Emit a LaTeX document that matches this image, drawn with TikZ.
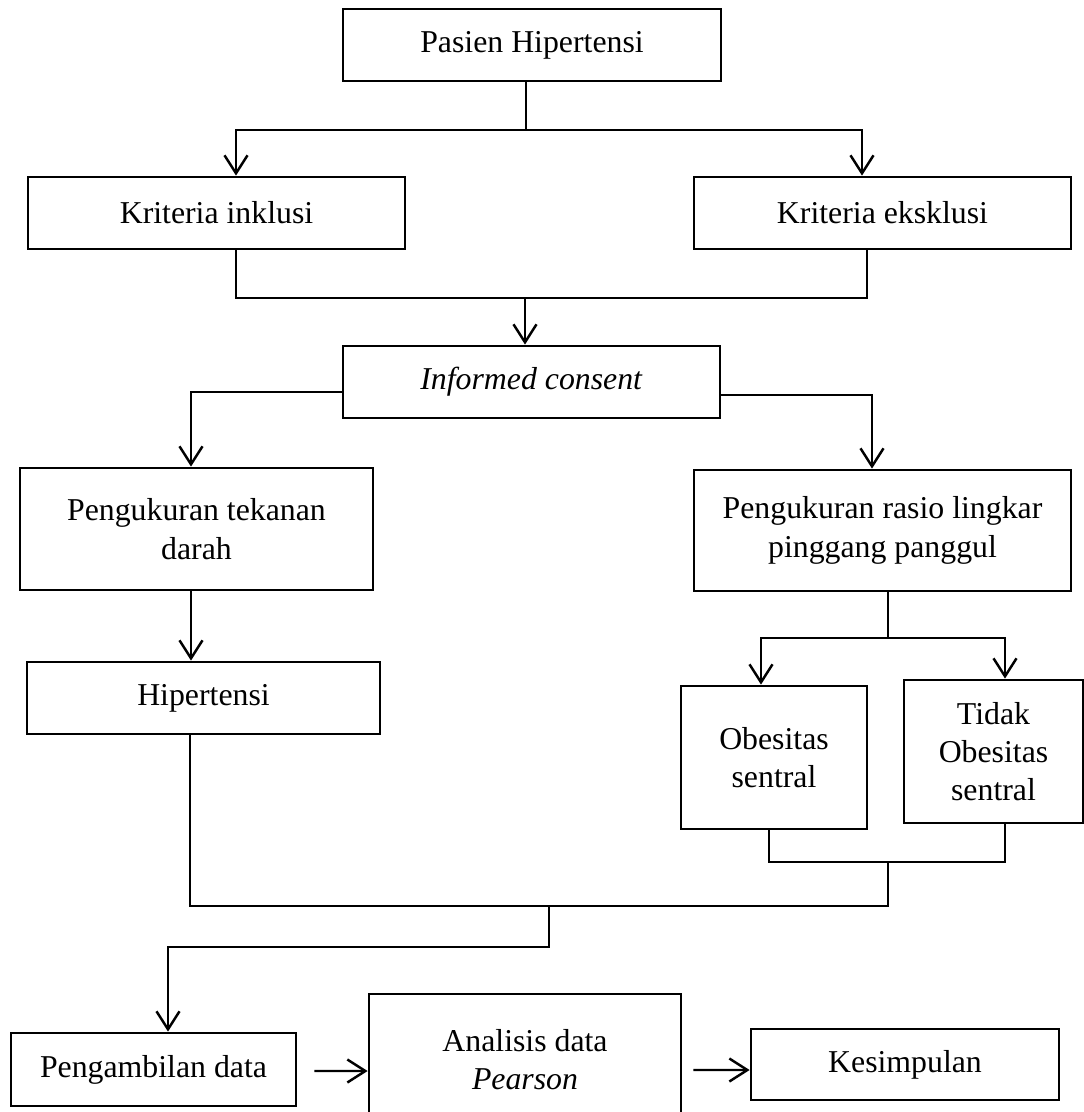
\documentclass[tikz,border=0pt]{standalone}
\usepackage{fontspec}
\setmainfont{Liberation Serif}
\usetikzlibrary{arrows.meta}

\begin{document}
\begin{tikzpicture}[
    x=0.02cm, y=-0.02cm,
    >={Straight Barb[length=0.36cm,width=0.46cm]},
    box/.style={
        draw,
        line width=1.6pt,
        minimum width=7.54cm,
        minimum height=1.44cm,
        inner sep=2pt,
        align=center,
        font=\fontsize{18.1pt}{21.8pt}\selectfont
    },
    line/.style={
        line width=1.4pt
    },
    arr/.style={
        ->,
        line width=1.4pt
    }
]
    \useasboundingbox (0,0) rectangle (1084,1112);

    \node[box, minimum width=7.56cm] (pasien) at (532,45)
        {Pasien Hipertensi};

    \node[box] (inklusi) at (216.5,213)
        {Kriteria inklusi};

    \node[box] (eksklusi) at (882.5,213)
        {Kriteria eksklusi};

    \node[box] (informed) at (531.5,382)
        {\textit{Informed consent}};

    \node[box, minimum width=7.06cm, minimum height=2.44cm] (tekanan) at (196.5,529)
        {Pengukuran tekanan\\darah};

    \node[box, minimum height=2.42cm] (rasio) at (882.5,530.5)
        {Pengukuran rasio lingkar\\pinggang panggul};

    \node[box, minimum width=7.06cm] (hipertensi) at (203.5,698)
        {Hipertensi};

    \node[box, minimum width=3.72cm, minimum height=2.86cm] (obesitas) at (774,757.5)
        {Obesitas\\sentral};

    \node[box, minimum width=3.58cm, minimum height=2.86cm] (tidak) at (993.5,751.5)
        {Tidak\\Obesitas\\sentral};

    \node[box, minimum width=5.7cm, minimum height=1.46cm] (ambil) at (153.5,1069.5)
        {Pengambilan data};

    \node[box, minimum width=6.24cm, minimum height=2.62cm] (analisis) at (525,1059.5)
        {Analisis data\\\textit{Pearson}};

    \node[box, minimum width=6.16cm, minimum height=1.42cm] (kesimpulan) at (905,1064.5)
        {Kesimpulan};

    % Titik cabang
    \coordinate (split1) at (526,130);
    \coordinate (split1l) at (236,130);
    \coordinate (split1r) at (862,130);
    \coordinate (join1) at (525,298);
    \coordinate (join1l) at (236,298);
    \coordinate (join1r) at (867,298);
    \coordinate (split2l) at (191,392);
    \coordinate (split2r) at (872,395);
    \coordinate (split3) at (888,638);
    \coordinate (split3l) at (761,638);
    \coordinate (split3r) at (1005,638);
    \coordinate (join2l) at (769,862);
    \coordinate (join2r) at (1005,862);
    \coordinate (join3l) at (190,906);
    \coordinate (join3r) at (888,906);
    \coordinate (turnl) at (168,947);
    \coordinate (turnr) at (549,947);

    \draw[line]
        (pasien.south -| split1) -- (split1);

    \draw[arr]
        (split1) -- (split1l) -- (inklusi.north -| split1l);

    \draw[arr]
        (split1) -- (split1r) -- (eksklusi.north -| split1r);

    \draw[line]
        (inklusi.south -| join1l) -- (join1l) --
        (join1r) -- (eksklusi.south -| join1r);

    \draw[arr]
        (join1) -- (informed.north -| join1);

    \draw[arr]
        (informed.west |- split2l) -- (split2l) -- (tekanan.north -| split2l);

    \draw[arr]
        (informed.east |- split2r) -- (split2r) -- (rasio.north -| split2r);

    \draw[arr]
        (tekanan.south -| split2l) -- (hipertensi.north -| split2l);

    \draw[line]
        (rasio.south -| split3) -- (split3);

    \draw[arr]
        (split3) -- (split3l) -- (obesitas.north -| split3l);

    \draw[arr]
        (split3) -- (split3r) -- (tidak.north -| split3r);

    \draw[line]
        (obesitas.south -| join2l) -- (join2l) --
        (join2r) -- (tidak.south -| join2r);

    \draw[line]
        (split3 |- join2l) -- (join3r) --
        (join3l) -- (hipertensi.south -| join3l);

    \draw[arr]
        (turnr |- join3l) -- (turnr) --
        (turnl) -- (ambil.north -| turnl);

    \draw[arr]
        (ambil.east) ++(17,1.5) -- (analisis.west |- 0,1071);

    \draw[arr]
        (analisis.east |- kesimpulan.west) ++(11,5.5) -- ([yshift=-0.11cm]kesimpulan.west);
\end{tikzpicture}
\end{document}
